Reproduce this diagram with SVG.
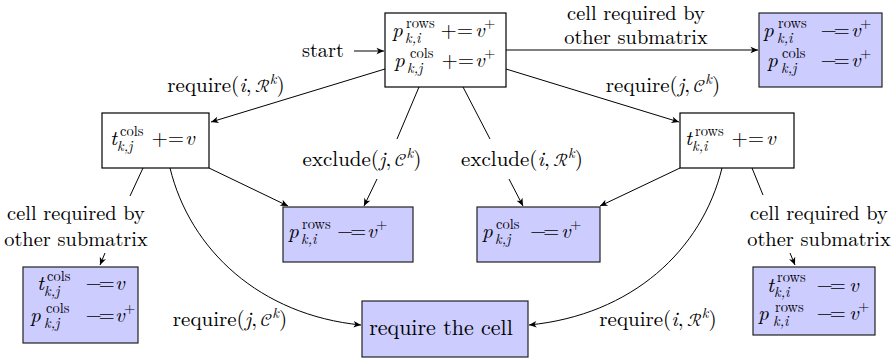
<svg xmlns="http://www.w3.org/2000/svg" width="896" height="361" viewBox="0 0 896 361">
<defs>
<style>
text{font-size:21px;fill:#000}
.lab{font-size:20.4px}
.it{font-style:italic}
.sm{font-size:14.5px}
.me{letter-spacing:-3.3px}
.box{fill:#fff;stroke:#000;stroke-width:1.2}
.blue{fill:#ccccff;stroke:#222;stroke-width:1.2}
.edge{fill:none;stroke:#000;stroke-width:1}
.arr{marker-end:url(#ah)}
</style>
<marker id="ah" viewBox="-9 -5 10 10" refX="0" refY="0" markerWidth="10" markerHeight="10" markerUnits="userSpaceOnUse" orient="auto">
<path d="M0,0 L-7.5,-3.3 L-5.5,0 L-7.5,3.3 Z" fill="#000"/>
</marker>
</defs>

<g id="connectors">
<line class="edge arr" x1="354" y1="51" x2="384" y2="51"/>
<line class="edge arr" x1="506" y1="50" x2="758" y2="50"/>
<line class="edge arr" x1="385" y1="69" x2="211" y2="122"/>
<line class="edge arr" x1="506" y1="69" x2="679" y2="122"/>
<line class="edge" x1="419" y1="87" x2="397" y2="139"/>
<line class="edge arr" x1="377" y1="179" x2="364" y2="206"/>
<line class="edge" x1="463" y1="87" x2="490" y2="139"/>
<line class="edge arr" x1="509" y1="179" x2="523" y2="206"/>
<line class="edge arr" x1="209" y1="168" x2="288" y2="206"/>
<line class="edge arr" x1="680" y1="168" x2="600" y2="206"/>
<line class="edge" x1="143" y1="168" x2="130" y2="196"/>
<line class="edge arr" x1="105" y1="253" x2="100" y2="265"/>
<line class="edge" x1="752" y1="168" x2="763" y2="195"/>
<line class="edge arr" x1="790" y1="253" x2="795" y2="265"/>
<path class="edge arr" d="M170,168 C190,250 260,315 361,325"/>
<path class="edge arr" d="M722,168 C702,250 632,315 529,325"/>
</g>

<g font-family="Latin Modern Roman, CMU Serif, Liberation Serif, serif">
<g id="labels">
<text class="lab" x="344" y="57" text-anchor="end">start</text>
<text class="lab" x="636" y="20" text-anchor="middle">cell required by</text>
<text class="lab" x="636" y="44" text-anchor="middle">other submatrix</text>
<text class="lab" x="76" y="220" text-anchor="middle">cell required by</text>
<text class="lab" x="76" y="246" text-anchor="middle">other submatrix</text>
<text class="lab" x="819" y="220" text-anchor="middle">cell required by</text>
<text class="lab" x="819" y="246" text-anchor="middle">other submatrix</text>
<text x="226" y="92" text-anchor="middle">require(<tspan class="it">i</tspan>,<tspan dx="3.5" font-family="Latin Modern Math, DejaVu Serif, DejaVu Sans, serif" font-size="18">ℛ</tspan><tspan class="it sm" dy="-8">k</tspan><tspan dy="8">)</tspan></text>
<text x="663" y="92" text-anchor="middle">require(<tspan class="it">j</tspan>,<tspan dx="3.5" font-family="Latin Modern Math, DejaVu Serif, DejaVu Sans, serif" font-size="18">𝒞</tspan><tspan class="it sm" dy="-8">k</tspan><tspan dy="8">)</tspan></text>
<text x="362" y="166" text-anchor="middle">exclude(<tspan class="it">j</tspan>,<tspan dx="3.5" font-family="Latin Modern Math, DejaVu Serif, DejaVu Sans, serif" font-size="18">𝒞</tspan><tspan class="it sm" dy="-8">k</tspan><tspan dy="8">)</tspan></text>
<text x="522" y="166" text-anchor="middle">exclude(<tspan class="it">i</tspan>,<tspan dx="3.5" font-family="Latin Modern Math, DejaVu Serif, DejaVu Sans, serif" font-size="18">ℛ</tspan><tspan class="it sm" dy="-8">k</tspan><tspan dy="8">)</tspan></text>
<text x="230" y="326" text-anchor="middle">require(<tspan class="it">j</tspan>,<tspan dx="3.5" font-family="Latin Modern Math, DejaVu Serif, DejaVu Sans, serif" font-size="18">𝒞</tspan><tspan class="it sm" dy="-8">k</tspan><tspan dy="8">)</tspan></text>
<text x="658" y="326" text-anchor="middle">require(<tspan class="it">i</tspan>,<tspan dx="3.5" font-family="Latin Modern Math, DejaVu Serif, DejaVu Sans, serif" font-size="18">ℛ</tspan><tspan class="it sm" dy="-8">k</tspan><tspan dy="8">)</tspan></text>
</g>

<g id="n-start">
<rect class="box" x="385" y="13" width="121" height="74"/>
<text><tspan class="it" x="392" y="37">p</tspan><tspan class="sm" x="406" y="28">rows</tspan><tspan class="it sm" x="405" y="43">k,i</tspan><tspan x="440.5" y="37">+=</tspan><tspan class="it" x="475" y="37">v</tspan><tspan class="sm" x="484" y="28">+</tspan></text>
<text><tspan class="it" x="394" y="67">p</tspan><tspan class="sm" x="410" y="58">cols</tspan><tspan class="it sm" x="407" y="73">k,j</tspan><tspan x="441.5" y="67">+=</tspan><tspan class="it" x="475" y="67">v</tspan><tspan class="sm" x="484" y="58">+</tspan></text>
</g>

<g id="n-other">
<rect class="blue" x="759" y="13" width="123" height="74"/>
<text><tspan class="it" x="763" y="37">p</tspan><tspan class="sm" x="778" y="28">rows</tspan><tspan class="it sm" x="777" y="43">k,i</tspan><tspan class="me" x="820.5" y="37">−=</tspan><tspan class="it" x="851" y="37">v</tspan><tspan class="sm" x="860" y="28">+</tspan></text>
<text><tspan class="it" x="767" y="67">p</tspan><tspan class="sm" x="782" y="58">cols</tspan><tspan class="it sm" x="781" y="73">k,j</tspan><tspan class="me" x="820.5" y="67">−=</tspan><tspan class="it" x="851" y="67">v</tspan><tspan class="sm" x="860" y="58">+</tspan></text>
</g>

<g id="n-tcols">
<rect class="box" x="102" y="113" width="107" height="55"/>
<text><tspan class="it" x="110" y="145">t</tspan><tspan class="sm" x="120" y="136">cols</tspan><tspan class="it sm" x="117" y="151">k,j</tspan><tspan x="151.5" y="145">+=</tspan><tspan class="it" x="185" y="145">v</tspan></text>
</g>

<g id="n-trows">
<rect class="box" x="680" y="113" width="114" height="55"/>
<text><tspan class="it" x="685" y="145">t</tspan><tspan class="sm" x="695" y="136">rows</tspan><tspan class="it sm" x="692" y="151">k,i</tspan><tspan x="731.5" y="145">+=</tspan><tspan class="it" x="766" y="145">v</tspan></text>
</g>

<g id="n-prows">
<rect class="blue" x="283" y="207" width="130" height="55"/>
<text><tspan class="it" x="288" y="238">p</tspan><tspan class="sm" x="302" y="229">rows</tspan><tspan class="it sm" x="301" y="244">k,i</tspan><tspan class="me" x="337" y="238">−=</tspan><tspan class="it" x="367" y="238">v</tspan><tspan class="sm" x="376" y="229">+</tspan></text>
</g>

<g id="n-pcols">
<rect class="blue" x="477" y="207" width="123" height="55"/>
<text><tspan class="it" x="482" y="238">p</tspan><tspan class="sm" x="496" y="229">cols</tspan><tspan class="it sm" x="495" y="244">k,j</tspan><tspan class="me" x="530" y="238">−=</tspan><tspan class="it" x="561" y="238">v</tspan><tspan class="sm" x="570" y="229">+</tspan></text>
</g>

<g id="n-undo-cols">
<rect class="blue" x="23" y="267" width="115" height="76"/>
<text><tspan class="it" x="37" y="290">t</tspan><tspan class="sm" x="47" y="281">cols</tspan><tspan class="it sm" x="44" y="296">k,j</tspan><tspan class="me" x="85.5" y="290">−=</tspan><tspan class="it" x="115" y="290">v</tspan></text>
<text><tspan class="it" x="30" y="322">p</tspan><tspan class="sm" x="46" y="313">cols</tspan><tspan class="it sm" x="44" y="328">k,j</tspan><tspan class="me" x="85.5" y="322">−=</tspan><tspan class="it" x="115" y="322">v</tspan><tspan class="sm" x="124" y="313">+</tspan></text>
</g>

<g id="n-undo-rows">
<rect class="blue" x="753" y="267" width="122" height="68"/>
<text><tspan class="it" x="767" y="292">t</tspan><tspan class="sm" x="777" y="282">rows</tspan><tspan class="it sm" x="774" y="297">k,i</tspan><tspan class="me" x="816.5" y="292">−=</tspan><tspan class="it" x="849" y="292">v</tspan></text>
<text><tspan class="it" x="758" y="320">p</tspan><tspan class="sm" x="775" y="312">rows</tspan><tspan class="it sm" x="773" y="326">k,i</tspan><tspan class="me" x="816.5" y="320">−=</tspan><tspan class="it" x="849" y="320">v</tspan><tspan class="sm" x="858" y="311">+</tspan></text>
</g>

<g id="n-require">
<rect class="blue" x="362" y="301" width="166" height="56"/>
<text x="441" y="335" text-anchor="middle" style="font-size:22px">require the cell</text>
</g>
</g>
</svg>
